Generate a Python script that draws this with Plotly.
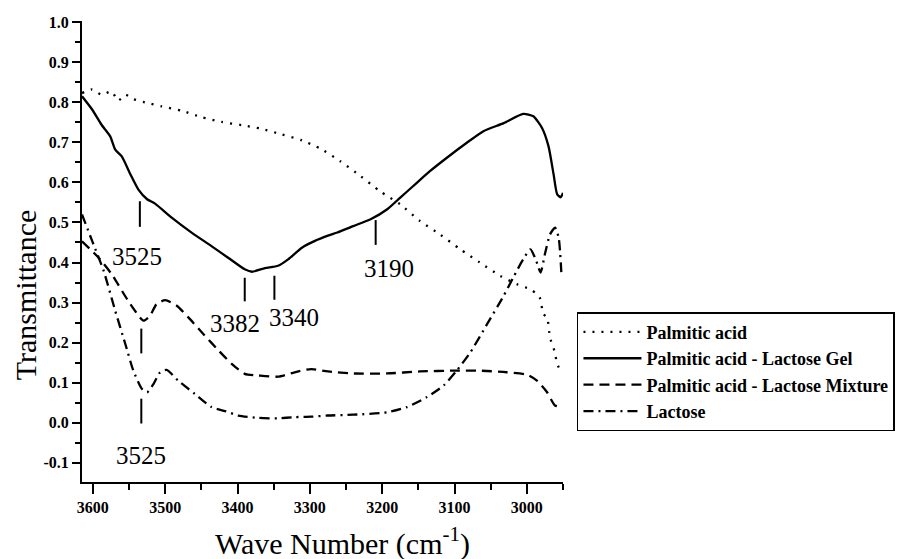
import plotly.graph_objects as go

# ---------------- data ----------------
pa_x = [3615, 3601, 3588, 3574, 3565, 3555, 3544, 3528, 3505, 3477, 3450, 3422, 3394, 3367,
        3339, 3311, 3285, 3258, 3230, 3203, 3175, 3148, 3120, 3092, 3065, 3037, 3014, 2995,
        2986, 2982, 2977, 2972, 2968, 2962, 2958, 2955]
pa_y = [0.823, 0.832, 0.819, 0.827, 0.804, 0.819, 0.808, 0.800, 0.790, 0.779, 0.763, 0.751,
        0.743, 0.734, 0.720, 0.705, 0.684, 0.653, 0.616, 0.578, 0.545, 0.504, 0.470, 0.433,
        0.400, 0.367, 0.346, 0.333, 0.321, 0.312, 0.271, 0.263, 0.213, 0.180, 0.147, 0.135]

gel_x = [3615, 3601, 3588, 3576, 3569, 3560, 3548, 3537, 3525, 3514, 3491, 3463, 3436, 3413,
         3390, 3380, 3362, 3344, 3330, 3311, 3293, 3275, 3262, 3240, 3216, 3193, 3175, 3157,
         3134, 3111, 3083, 3060, 3032, 3005, 2991, 2979, 2970, 2963, 2958, 2953, 2950]
gel_y = [0.815, 0.782, 0.744, 0.715, 0.682, 0.665, 0.620, 0.582, 0.558, 0.547, 0.512, 0.474,
         0.441, 0.412, 0.383, 0.377, 0.386, 0.392, 0.408, 0.437, 0.454, 0.467, 0.475, 0.491,
         0.508, 0.533, 0.562, 0.591, 0.628, 0.661, 0.699, 0.728, 0.748, 0.771, 0.765, 0.736,
         0.690, 0.620, 0.570, 0.563, 0.574]

mix_x = [3615, 3592, 3574, 3551, 3530, 3521, 3512, 3500, 3484, 3468, 3447, 3426, 3408, 3390,
         3371, 3344, 3321, 3298, 3275, 3240, 3193, 3148, 3101, 3065, 3028, 3000, 2986, 2972,
         2961, 2950]
mix_y = [0.453, 0.412, 0.371, 0.304, 0.255, 0.267, 0.296, 0.306, 0.292, 0.263, 0.221, 0.180,
         0.147, 0.122, 0.118, 0.115, 0.126, 0.134, 0.128, 0.123, 0.123, 0.128, 0.130, 0.130,
         0.126, 0.120, 0.105, 0.076, 0.043, 0.039]

lac_x = [3615, 3601, 3585, 3569, 3555, 3544, 3532, 3525, 3516, 3507, 3498, 3482, 3459, 3436,
         3417, 3399, 3371, 3344, 3321, 3298, 3275, 3240, 3193, 3166, 3138, 3115, 3097, 3078,
         3055, 3032, 3019, 3005, 2995, 2987, 2981, 2975, 2968, 2961, 2956, 2952]
lac_y = [0.520, 0.454, 0.379, 0.279, 0.196, 0.130, 0.084, 0.076, 0.097, 0.126, 0.132, 0.105,
         0.072, 0.039, 0.029, 0.018, 0.012, 0.011, 0.014, 0.015, 0.018, 0.020, 0.026, 0.039,
         0.064, 0.093, 0.130, 0.176, 0.246, 0.317, 0.362, 0.408, 0.433, 0.404, 0.375, 0.421,
         0.470, 0.487, 0.462, 0.365]

series_names = ["Palmitic acid", "Palmitic acid - Lactose Gel",
                "Palmitic acid - Lactose Mixture", "Lactose"]

# peak markers (wavenumber, transmittance range) and their labels
mark_x = [3535, 3209, 3390, 3349, 3533, 3533]
mark_y0 = [0.553, 0.506, 0.362, 0.367, 0.235, 0.060]
mark_y1 = [0.489, 0.444, 0.303, 0.307, 0.173, -0.002]
label_text = ["3525", "3190", "3382", "3340", "3525"]
label_x = [3539, 3190, 3403, 3322, 3534]
label_y = [0.414, 0.384, 0.248, 0.263, -0.082]

x_tick_vals = [3600, 3500, 3400, 3300, 3200, 3100, 3000]
x_tick_text = ["3600", "3500", "3400", "3300", "3200", "3100", "3000"]
y_tick_vals = [-0.1, 0.0, 0.1, 0.2, 0.3, 0.4, 0.5, 0.6, 0.7, 0.8, 0.9, 1.0]
y_tick_text = ["-0.1", "0.0", "0.1", "0.2", "0.3", "0.4", "0.5", "0.6", "0.7", "0.8", "0.9", "1.0"]

# ---------------- figure ----------------
SERIF = "Liberation Serif, Times New Roman, serif"
fig = go.Figure()
styles = ["2px,7px", "solid", "10px,6px", "10px,5px,2px,5px"]
xs = [pa_x, gel_x, mix_x, lac_x]
ys = [pa_y, gel_y, mix_y, lac_y]
for name, x, y, dash in zip(series_names, xs, ys, styles):
    fig.add_trace(go.Scatter(x=x, y=y, mode="lines", name=name,
                             line=dict(color="black", width=2.3, dash=dash, shape="spline",
                                       smoothing=0.6)))

for xm, a, b in zip(mark_x, mark_y0, mark_y1):
    fig.add_shape(type="line", xref="x", yref="y", x0=xm, x1=xm, y0=a, y1=b,
                  line=dict(color="black", width=2))

for t, xl, yl in zip(label_text, label_x, label_y):
    fig.add_annotation(x=xl, y=yl, xref="x", yref="y", text=t, showarrow=False,
                       font=dict(family=SERIF, size=25, color="black"))

fig.add_annotation(text="Transmittance", xref="paper", yref="paper", x=-0.118, y=0.4056,
                   textangle=-90, showarrow=False, xanchor="center", yanchor="middle",
                   borderpad=0,
                   font=dict(family=SERIF, size=30, color="black"))
fig.add_annotation(text="Wave Number (cm<sup>-1</sup>)", xref="paper", yref="paper",
                   x=0.5426, y=-0.129, showarrow=False, xanchor="center", yanchor="middle",
                   borderpad=0,
                   font=dict(family=SERIF, size=30, color="black"))

axis_common = dict(showline=True, linecolor="black", linewidth=2, ticks="outside",
                   tickcolor="black", tickwidth=2, showgrid=False, zeroline=False,
                   tickfont=dict(family=SERIF, size=16, color="black", weight="bold"))
fig.update_xaxes(range=[3615, 2950], tickvals=x_tick_vals, ticktext=x_tick_text, ticklen=10,
                 minor=dict(dtick=50, tick0=3000, ticks="outside", ticklen=6, tickwidth=2,
                            tickcolor="black"),
                 **axis_common)
fig.update_yaxes(range=[-0.148, 1.003], tickvals=y_tick_vals, ticktext=y_tick_text, ticklen=8,
                 minor=dict(dtick=0.05, tick0=0, ticks="outside", ticklen=5, tickwidth=2,
                            tickcolor="black"),
                 **axis_common)

# the page body adds an 8px offset, so the figure is 8px smaller and margins shifted
fig.update_layout(
    width=896, height=551,
    margin=dict(l=74, r=341, t=13, b=77, autoexpand=False),
    plot_bgcolor="white", paper_bgcolor="white",
    legend=dict(xref="container", yref="container", x=0.635, y=0.448,
                xanchor="left", yanchor="top",
                bordercolor="black", borderwidth=1.5, bgcolor="white",
                font=dict(family=SERIF, size=18, color="black", weight="bold"),
                itemwidth=58, tracegroupgap=4),
    showlegend=True,
)

fig.write_html("out.html")
